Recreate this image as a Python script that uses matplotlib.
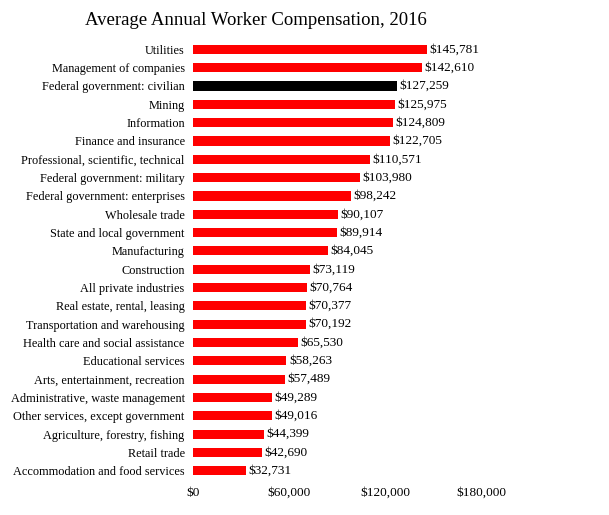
import matplotlib.pyplot as plt

industries = ["Utilities", "Management of companies", "Federal government: civilian", "Mining",
              "Information", "Finance and insurance", "Professional, scientific, technical",
              "Federal government: military", "Federal government: enterprises", "Wholesale trade",
              "State and local government", "Manufacturing", "Construction", "All private industries",
              "Real estate, rental, leasing", "Transportation and warehousing",
              "Health care and social assistance", "Educational services",
              "Arts, entertainment, recreation", "Administrative, waste management",
              "Other services, except government", "Agriculture, forestry, fishing",
              "Retail trade", "Accommodation and food services"]
values = [145781, 142610, 127259, 125975, 124809, 122705, 110571, 103980, 98242, 90107,
          89914, 84045, 73119, 70764, 70377, 70192, 65530, 58263, 57489, 49289,
          49016, 44399, 42690, 32731]

plt.rcParams['font.family'] = ['Liberation Serif', 'DejaVu Serif']

fig = plt.figure(figsize=(6.09, 5.15), dpi=100)
ax = fig.add_axes([0.317, 0.068, 0.474, 0.854])

colors = ['black' if 'civilian' in n else '#ff0000' for n in industries]
y = list(range(len(industries)))
ax.barh(y, values, height=0.5, color=colors)
for yi, v in zip(y, values):
    ax.text(v + 1500, yi, f"${v:,}", va='center', ha='left', fontsize=9.5)

ax.set_yticks(y)
ax.set_yticklabels(industries, fontsize=8.8)
ax.set_ylim(len(industries) - 0.5, -0.5)
ax.set_xlim(0, 180000)
ax.set_xticks([0, 60000, 120000, 180000])
ax.set_xticklabels(["$0", "$60,000", "$120,000", "$180,000"], fontsize=9.5)
ax.tick_params(length=0, pad=6)
ax.tick_params(axis='x', pad=5)
for s in ax.spines.values():
    s.set_visible(False)

fig.text(0.42, 0.96, "Average Annual Worker Compensation, 2016", ha='center', va='center', fontsize=13.5)
fig.savefig("out.png", dpi=100)
